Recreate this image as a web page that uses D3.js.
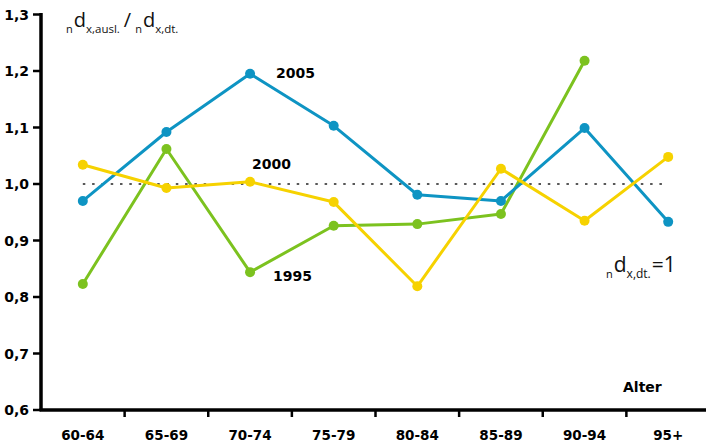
<!DOCTYPE html>
<html><head><meta charset="utf-8">
<script src="https://cdn.jsdelivr.net/npm/d3@7"></script>
<style>body{margin:0;background:#fff}svg{display:block}</style>
</head><body>
<svg id="c" width="706" height="444"></svg>
<script>
const categories = ["60-64","65-69","70-74","75-79","80-84","85-89","90-94","95+"];
const s2005 = [0.970, 1.092, 1.195, 1.103, 0.981, 0.970, 1.099, 0.933];
const s2000 = [1.034, 0.993, 1.004, 0.968, 0.819, 1.027, 0.935, 1.048];
const s1995 = [0.823, 1.062, 0.844, 0.926, 0.929, 0.947, 1.218, null];
const yTicks = [0.6, 0.7, 0.8, 0.9, 1.0, 1.1, 1.2, 1.3];
const seriesNames = ["1995", "2000", "2005"];
const seriesColors = ["#7cc21f", "#f6d200", "#0e94c3"];
const refValue = 1.0;

const svg = d3.select("#c");
const x = d3.scaleBand().domain(categories).range([41, 710]).paddingInner(0).paddingOuter(0);
const y = d3.scaleLinear().domain([0.6, 1.3]).range([410, 14.5]);
const cx = d => x(d) + x.bandwidth() / 2;

// reference dotted line
svg.append("line")
  .attr("x1", cx(categories[0])).attr("x2", cx(categories[categories.length - 1]))
  .attr("y1", y(refValue)).attr("y2", y(refValue))
  .attr("stroke", "#222").attr("stroke-width", 1.5).attr("stroke-dasharray", "2.5,6.8");

const series = [
  {name: "1995", values: s1995, color: seriesColors[0]},
  {name: "2005", values: s2005, color: seriesColors[2]},
  {name: "2000", values: s2000, color: seriesColors[1]}
];
const line = d3.line().defined(d => d.v != null).x(d => cx(d.c)).y(d => y(d.v));
series.forEach(s => {
  const pts = categories.map((c, i) => ({c, v: s.values[i]}));
  svg.append("path").datum(pts).attr("d", line)
    .attr("fill", "none").attr("stroke", s.color).attr("stroke-width", 3).attr("stroke-linejoin", "round");
  svg.selectAll(null).data(pts.filter(d => d.v != null)).enter().append("circle")
    .attr("cx", d => cx(d.c)).attr("cy", d => y(d.v)).attr("r", 5).attr("fill", s.color);
});

// axes
const gx = svg.append("g").attr("transform", "translate(0,410)");
gx.append("line").attr("x1", 39.5).attr("x2", 706).attr("y1", 0).attr("y2", 0).attr("stroke", "#000").attr("stroke-width", 3.5);
gx.selectAll("line.t").data(categories.slice(1)).enter().append("line")
  .attr("x1", d => x(d)).attr("x2", d => x(d)).attr("y1", 0).attr("y2", 7)
  .attr("stroke", "#000").attr("stroke-width", 2.5);
gx.selectAll("text").data(categories).enter().append("text")
  .attr("x", d => cx(d)).attr("y", 30).attr("text-anchor", "middle")
  .attr("font-family", "DejaVu Sans").attr("font-weight", "bold").attr("font-size", 13.5)
  .text(d => d);

const gy = svg.append("g");
gy.append("line").attr("x1", 41).attr("x2", 41).attr("y1", y(1.3) - 1.5).attr("y2", 410).attr("stroke", "#000").attr("stroke-width", 3.5);
gy.selectAll("line.t").data(yTicks).enter().append("line")
  .attr("x1", 33).attr("x2", 41).attr("y1", d => y(d)).attr("y2", d => y(d))
  .attr("stroke", "#000").attr("stroke-width", 2.5);
gy.selectAll("text").data(yTicks).enter().append("text")
  .attr("x", 29).attr("y", d => y(d) + 5).attr("text-anchor", "end")
  .attr("font-family", "DejaVu Sans").attr("font-weight", "bold").attr("font-size", 14)
  .text(d => d.toFixed(1).replace(".", ","));

// series labels
const labels = [
  {t: "2005", x: 276, y: 78},
  {t: "2000", x: 252, y: 169},
  {t: "1995", x: 273, y: 281},
  {t: "Alter", x: 623, y: 392}
];
svg.selectAll("text.lab").data(labels).enter().append("text").attr("class", "lab")
  .attr("x", d => d.x).attr("y", d => d.y)
  .attr("font-family", "DejaVu Sans").attr("font-weight", "bold").attr("font-size", 14)
  .text(d => d.t);

// title
const title = svg.append("text").attr("x", 66).attr("y", 27).attr("font-family", "Open Sans").attr("fill", "#111");
title.append("tspan").attr("font-size", 11).attr("dy", 6).text("n");
title.append("tspan").attr("font-size", 20).attr("dy", -6).attr("dx", 1).text("d");
title.append("tspan").attr("font-size", 11.5).attr("dy", 6).text("x,ausl.");
title.append("tspan").attr("font-size", 20).attr("dy", -6).attr("dx", 4).text("/");
title.append("tspan").attr("font-size", 11).attr("dy", 6).attr("dx", 4).text("n");
title.append("tspan").attr("font-size", 20).attr("dy", -6).attr("dx", 1).text("d");
title.append("tspan").attr("font-size", 11.5).attr("dy", 6).text("x,dt.");

const ref = svg.append("text").attr("x", 606).attr("y", 272).attr("font-family", "Open Sans").attr("fill", "#111");
ref.append("tspan").attr("font-size", 11).attr("dy", 6).text("n");
ref.append("tspan").attr("font-size", 21).attr("dy", -6).attr("dx", 1).text("d");
ref.append("tspan").attr("font-size", 12).attr("dy", 6).text("x,dt.");
ref.append("tspan").attr("font-size", 21).attr("dy", -6).attr("dx", 1).text("=1");
</script>
</body></html>
